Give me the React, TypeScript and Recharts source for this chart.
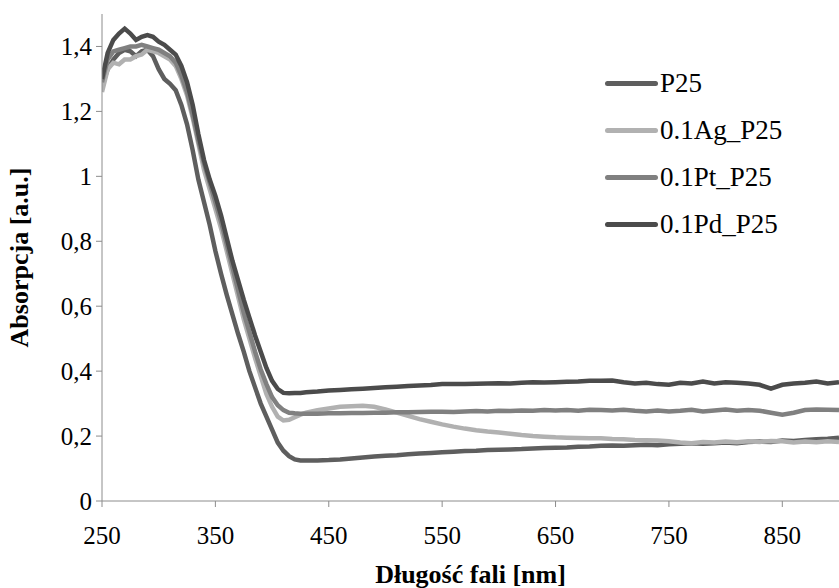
import { LineChart, Line, XAxis, YAxis, Label } from "recharts";

const wavelengths = [
  250, 255, 260, 265, 270, 275, 280, 285, 290, 295, 300, 305, 310, 315, 320, 325, 330, 335, 340, 345,
  350, 355, 360, 365, 370, 375, 380, 385, 390, 395, 400, 405, 410, 415, 420, 425, 430, 440, 450, 460,
  470, 480, 490, 500, 510, 520, 530, 540, 550, 560, 570, 580, 590, 600, 610, 620, 630, 640, 650, 660,
  670, 680, 690, 700, 710, 720, 730, 740, 750, 760, 770, 780, 790, 800, 810, 820, 830, 840, 850, 860,
  870, 880, 890, 900,
];

const p25 = [
  1.28, 1.33, 1.36, 1.38, 1.39, 1.385, 1.37, 1.385, 1.39, 1.37, 1.33, 1.3, 1.285, 1.265, 1.22, 1.16, 1.08, 0.99, 0.92, 0.85,
  0.77, 0.7, 0.635, 0.575, 0.515, 0.46, 0.4, 0.35, 0.3, 0.26, 0.22, 0.18, 0.155, 0.138, 0.128, 0.125, 0.125, 0.125, 0.126, 0.128,
  0.131, 0.134, 0.137, 0.139, 0.141, 0.144, 0.146, 0.148, 0.15, 0.152, 0.154, 0.155, 0.157, 0.158, 0.159, 0.16, 0.162, 0.163, 0.164, 0.165,
  0.167, 0.168, 0.17, 0.171, 0.17, 0.172, 0.173, 0.172, 0.175, 0.176, 0.178, 0.176, 0.178, 0.18, 0.178, 0.182, 0.183, 0.182, 0.186, 0.185,
  0.188, 0.19, 0.192, 0.195,
];

const ag = [
  1.26, 1.33, 1.35, 1.345, 1.36, 1.36, 1.37, 1.375, 1.39, 1.385, 1.38, 1.37, 1.36, 1.34, 1.3, 1.25, 1.18, 1.1, 1.02, 0.96,
  0.9, 0.84, 0.77, 0.7, 0.63, 0.56, 0.5, 0.44, 0.385, 0.33, 0.29, 0.26, 0.248, 0.25, 0.258, 0.266, 0.272, 0.28, 0.285, 0.29,
  0.292, 0.293, 0.29, 0.282, 0.272, 0.262, 0.252, 0.244, 0.236, 0.229, 0.223, 0.218, 0.214, 0.211, 0.207, 0.203, 0.2, 0.198, 0.196, 0.195,
  0.194, 0.193, 0.193, 0.191, 0.19, 0.188, 0.187, 0.186, 0.184, 0.18, 0.178, 0.182, 0.18, 0.183, 0.181, 0.184, 0.182, 0.185, 0.184, 0.18,
  0.183, 0.181, 0.184, 0.182,
];

const pt = [
  1.29, 1.36, 1.385, 1.39, 1.395, 1.4, 1.4, 1.405, 1.4, 1.395, 1.39, 1.38, 1.37, 1.35, 1.31, 1.26, 1.19, 1.11, 1.04, 0.98,
  0.92, 0.86, 0.79, 0.72, 0.65, 0.58, 0.52, 0.46, 0.405, 0.36, 0.32, 0.295, 0.28, 0.272, 0.27, 0.269, 0.269, 0.269, 0.27, 0.27,
  0.271, 0.271, 0.272, 0.272, 0.273, 0.273, 0.274, 0.275, 0.275, 0.274, 0.276, 0.277, 0.276, 0.278, 0.277, 0.279, 0.278, 0.28, 0.279, 0.28,
  0.278, 0.281, 0.28, 0.279, 0.281, 0.278, 0.276, 0.279, 0.276, 0.278, 0.281, 0.276, 0.279, 0.282, 0.278, 0.28, 0.278, 0.272, 0.266, 0.272,
  0.28, 0.282, 0.281, 0.28,
];

const pd = [
  1.3, 1.38, 1.42, 1.44, 1.455, 1.44, 1.42, 1.43, 1.435, 1.43, 1.415, 1.405, 1.39, 1.375, 1.34, 1.29, 1.22, 1.13, 1.05, 0.99,
  0.94, 0.88, 0.81, 0.74, 0.68, 0.62, 0.565, 0.51, 0.46, 0.41, 0.37, 0.345, 0.333, 0.332, 0.333, 0.333, 0.335, 0.337, 0.34, 0.342,
  0.344, 0.346, 0.348, 0.35, 0.352, 0.354, 0.356, 0.357, 0.36, 0.36, 0.36, 0.361, 0.362, 0.363, 0.362, 0.364, 0.366, 0.365, 0.366, 0.367,
  0.368, 0.37, 0.37, 0.371, 0.366, 0.362, 0.364, 0.36, 0.358, 0.364, 0.362, 0.368, 0.362, 0.366, 0.364, 0.362, 0.358, 0.346, 0.358, 0.362,
  0.364, 0.368, 0.362, 0.366,
];

const xTicks = [250, 350, 450, 550, 650, 750, 850];
const yTicks = [0, 0.2, 0.4, 0.6, 0.8, 1, 1.2, 1.4];

const series = [
  { key: "p25", name: "P25", color: "#5e5e5e" },
  { key: "ag", name: "0.1Ag_P25", color: "#b1b1b1" },
  { key: "pt", name: "0.1Pt_P25", color: "#808080" },
  { key: "pd", name: "0.1Pd_P25", color: "#4b4b4b" },
];

const data = wavelengths.map((nm, i) => ({ nm, p25: p25[i], ag: ag[i], pt: pt[i], pd: pd[i] }));

const font = "Times New Roman, Liberation Serif, serif";
const tickStyle = { fontSize: 25, fill: "#000", fontFamily: font };

export default function App() {
  return (
    <div style={{ position: "absolute", left: 0, top: 0, width: 839, height: 588, background: "#fff", fontFamily: font }}>
      <LineChart
        width={839}
        height={588}
        data={data}
        margin={{ top: 14, right: 0, left: 0, bottom: 0 }}
        style={{ fontFamily: font }}
      >
        <XAxis
          dataKey="nm"
          type="number"
          domain={[250, 900]}
          ticks={xTicks}
          allowDataOverflow
          height={87}
          stroke="#8c8c8c"
          tickSize={6}
          tickMargin={19}
          tick={tickStyle}
        >
          <Label
            value="Długość fali [nm]"
            position="insideBottom"
            offset={5}
            fontFamily={font}
            style={{ fontSize: 26, fontWeight: 700, fill: "#000", fontFamily: font }}
          />
        </XAxis>
        <YAxis
          type="number"
          domain={[0, 1.5]}
          ticks={yTicks}
          width={102}
          stroke="#8c8c8c"
          tickSize={6}
          tickMargin={4}
          tickFormatter={(v: number) => String(v).replace(".", ",")}
          tick={tickStyle}
        >
          <Label
            value="Absorpcja [a.u.]"
            angle={-90}
            position="insideLeft"
            offset={19}
            fontFamily={font}
            style={{ textAnchor: "middle", fontSize: 26, fontWeight: 700, fill: "#000", fontFamily: font }}
          />
        </YAxis>
        {series.map((s) => (
          <Line
            key={s.key}
            dataKey={s.key}
            name={s.name}
            stroke={s.color}
            strokeWidth={4.5}
            dot={false}
            type="linear"
            isAnimationActive={false}
          />
        ))}
      </LineChart>
      <div style={{ position: "absolute", left: 605, top: 60, fontSize: 27, color: "#000", fontFamily: font }}>
        {series.map((s) => (
          <div key={s.key} style={{ display: "flex", alignItems: "center", height: 47 }}>
            <div style={{ width: 53, height: 5, background: s.color, borderRadius: 3, marginRight: 2 }} />
            <span>{s.name}</span>
          </div>
        ))}
      </div>
    </div>
  );
}
